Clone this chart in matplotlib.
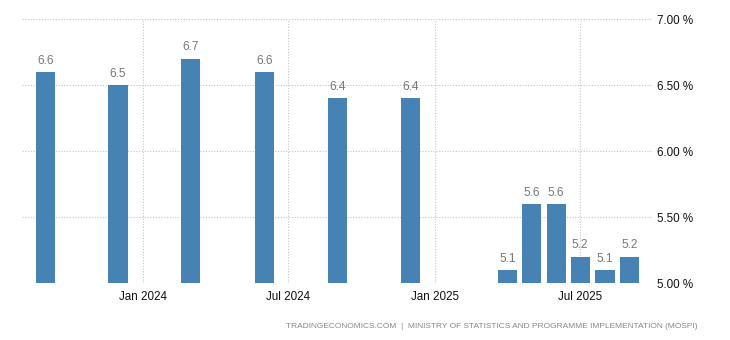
import matplotlib
matplotlib.use("Agg")
import matplotlib.pyplot as plt
import matplotlib.dates as mdates
from datetime import date

# India unemployment rate (%), quarterly then monthly
periods = ["2023-09", "2023-12", "2024-03", "2024-06", "2024-09", "2024-12",
           "2025-04", "2025-05", "2025-06", "2025-07", "2025-08", "2025-09"]
values = [6.6, 6.5, 6.7, 6.6, 6.4, 6.4, 5.1, 5.6, 5.6, 5.2, 5.1, 5.2]
yticks = [5.0, 5.5, 6.0, 6.5, 7.0]
xtick_dates = ["2024-01", "2024-07", "2025-01", "2025-07"]
xtick_labels = ["Jan 2024", "Jul 2024", "Jan 2025", "Jul 2025"]
source = "TRADINGECONOMICS.COM  |  MINISTRY OF STATISTICS AND PROGRAMME IMPLEMENTATION (MOSPI)"

plt.rcParams["font.family"] = ["Liberation Sans", "DejaVu Sans"]


def to_date(s):
    y, m = s.split("-")
    return date(int(y), int(m), 1)


x = [to_date(p) for p in periods]
BAR = "#4682b4"

fig = plt.figure(figsize=(7.3, 3.4), dpi=100)
ax = fig.add_axes([22 / 730, 57 / 340, 631 / 730, 264 / 340])

ax.bar(x, values, width=24, color=BAR, zorder=2)
ax.set_ylim(5.0, 7.0)
ax.set_xlim(date(2023, 8, 3), date(2025, 9, 30))

for xi, v in zip(x, values):
    ax.text(xi, v + 0.04, f"{v:.1f}", ha="center", va="bottom",
            fontsize=8.6, color="#777777")

ax.set_yticks(yticks)
ax.set_yticklabels([f"{t:.2f} %" for t in yticks])
ax.yaxis.tick_right()
ax.set_xticks([mdates.date2num(to_date(d)) for d in xtick_dates])
ax.set_xticklabels(xtick_labels)
ax.tick_params(axis="both", length=0, labelsize=8.4, colors="#111111")
ax.tick_params(axis="y", pad=3)
ax.tick_params(axis="x", pad=6)

ax.grid(True, color="#c4c4c4", linestyle=(0, (1, 1.5)), linewidth=0.8, zorder=0)
for s in ax.spines.values():
    s.set_visible(False)

fig.text(697 / 730, 1 - 326 / 340, source, ha="right", va="center",
         fontsize=6.0, color="#888888")

fig.savefig("out.png", dpi=100)
